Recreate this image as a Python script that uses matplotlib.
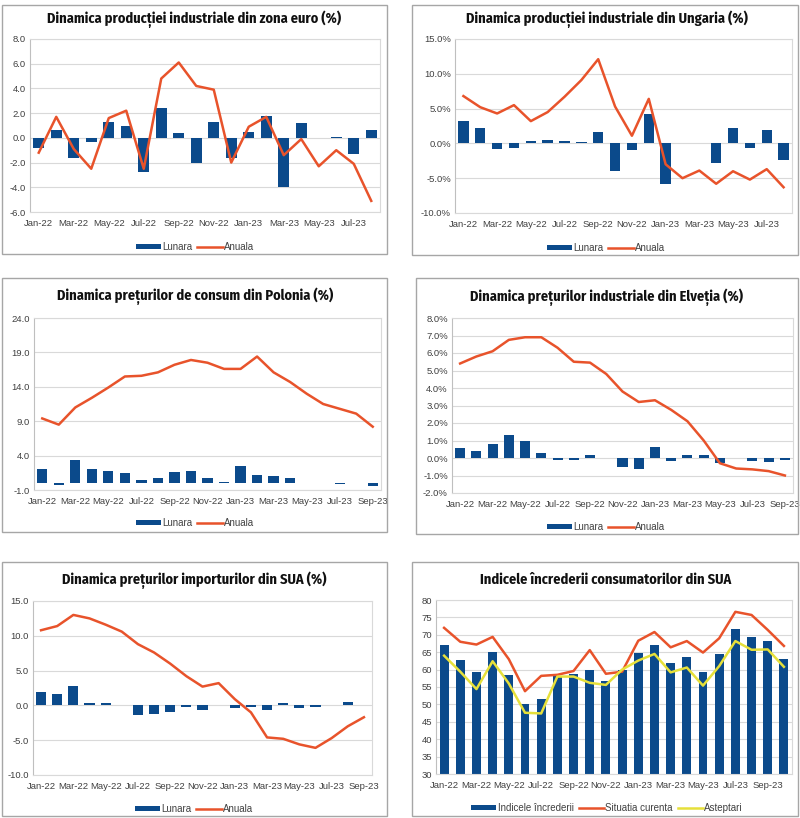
import matplotlib
matplotlib.use("Agg")
import matplotlib.pyplot as plt
from matplotlib.patches import Rectangle
from matplotlib.ticker import FuncFormatter
import numpy as np

W, H = 800, 818
BLUE = "#0b4a8b"
ORANGE = "#e8532b"
YELLOW = "#e6e03a"
GRID = "#d9d9d9"
TXT = "#404040"

months = ["Jan-22", "Feb-22", "Mar-22", "Apr-22", "May-22", "Jun-22", "Jul-22",
          "Aug-22", "Sep-22", "Oct-22", "Nov-22", "Dec-22", "Jan-23", "Feb-23",
          "Mar-23", "Apr-23", "May-23", "Jun-23", "Jul-23", "Aug-23", "Sep-23",
          "Oct-23"]

# zona euro (Jan-22 .. Aug-23)
ez_lunara = [-0.85, 0.6, -1.6, -0.3, 1.3, 1.0, -2.8, 2.4, 0.4, -2.0, 1.3, -1.6,
             0.5, 1.8, -4.0, 1.2, 0.0, 0.1, -1.3, 0.6]
ez_anuala = [-1.2, 1.7, -0.9, -2.5, 1.6, 2.2, -2.5, 4.8, 6.1, 4.2, 3.9, -2.0,
             0.9, 1.7, -1.4, -0.1, -2.3, -1.0, -2.1, -5.1]

# Ungaria (Jan-22 .. Aug-23), %
hu_lunara = [3.2, 2.2, -0.8, -0.7, 0.3, 0.5, 0.3, 0.2, 1.6, -4.0, -1.0, 4.2,
             -5.9, 0.1, 0.1, -2.8, 2.2, -0.7, 1.9, -2.4]
hu_anuala = [6.8, 5.2, 4.3, 5.5, 3.2, 4.5, 6.7, 9.1, 12.1, 5.3, 1.1, 6.4,
             -3.0, -5.0, -3.9, -5.8, -4.0, -5.2, -3.7, -6.3]

# Polonia (Jan-22 .. Sep-23)
pl_lunara = [2.0, -0.3, 3.3, 2.0, 1.7, 1.5, 0.5, 0.8, 1.6, 1.8, 0.7, 0.1,
             2.5, 1.2, 1.1, 0.7, 0.0, 0.0, -0.2, 0.0, -0.4]
pl_anuala = [9.4, 8.5, 11.0, 12.4, 13.9, 15.5, 15.6, 16.1, 17.2, 17.9, 17.5, 16.6,
             16.6, 18.4, 16.1, 14.7, 13.0, 11.5, 10.8, 10.1, 8.2]

# Elvetia (Jan-22 .. Sep-23), %
ch_lunara = [0.55, 0.4, 0.8, 1.3, 0.95, 0.3, -0.1, -0.1, 0.15, 0.02, -0.5, -0.65,
             0.65, -0.15, 0.2, 0.2, -0.3, 0.0, -0.15, -0.25, -0.1]
ch_anuala = [5.4, 5.8, 6.1, 6.75, 6.9, 6.9, 6.3, 5.5, 5.45, 4.8, 3.8, 3.2,
             3.3, 2.75, 2.1, 1.0, -0.3, -0.6, -0.65, -0.75, -1.0]

# SUA importuri (Jan-22 .. Sep-23)
us_lunara = [1.9, 1.7, 2.8, 0.4, 0.4, 0.1, -1.4, -1.2, -0.9, -0.3, -0.7, 0.05,
             -0.4, -0.2, -0.7, 0.3, -0.4, -0.2, 0.05, 0.5, 0.1]
us_anuala = [10.8, 11.4, 13.0, 12.5, 11.6, 10.6, 8.8, 7.6, 6.0, 4.2, 2.7, 3.2,
             0.9, -1.0, -4.6, -4.8, -5.6, -6.1, -4.7, -3.0, -1.7]

# SUA incredere consumatori (Jan-22 .. Oct-23)
cc_indice = [67.1, 62.8, 59.4, 65.2, 58.4, 50.0, 51.5, 58.2, 58.6, 60.0, 56.8, 59.8,
             64.9, 67.0, 62.0, 63.5, 59.2, 64.4, 71.6, 69.5, 68.1, 63.0]
cc_curenta = [72.0, 68.0, 67.2, 69.4, 63.0, 53.8, 58.2, 58.5, 59.6, 65.6, 58.8, 59.4,
              68.3, 70.8, 66.4, 68.2, 64.9, 69.0, 76.6, 75.7, 71.4, 66.8]
cc_asteptari = [64.0, 59.4, 54.4, 62.4, 56.0, 47.6, 47.4, 58.0, 58.0, 56.2, 55.6, 60.0,
                62.6, 64.5, 59.2, 60.6, 55.4, 61.0, 68.2, 65.7, 65.8, 60.8]

plt.rcParams["font.family"] = ["Liberation Sans", "DejaVu Sans"]
TITLE_FONT = ["Fira Sans Condensed", "DejaVu Sans"]

fig = plt.figure(figsize=(W / 100, H / 100), dpi=100)


def px_axes(l, t, r, b):
    return fig.add_axes([l / W, 1 - b / H, (r - l) / W, (b - t) / H])


def box(l, t, r, b):
    fig.patches.append(Rectangle((l / W, 1 - b / H), (r - l) / W, (b - t) / H,
                                 transform=fig.transFigure, fill=False,
                                 edgecolor="#a6a6a6", lw=1.0))


def style(ax, n, ylim, step, fmt):
    ax.set_xlim(-0.5, n - 0.5)
    ax.set_ylim(*ylim)
    ax.set_yticks(np.arange(ylim[0], ylim[1] + step / 2, step))
    ax.yaxis.set_major_formatter(FuncFormatter(fmt))
    ax.set_xticks(range(0, n, 2))
    ax.set_xticklabels(months[0:n:2])
    ax.grid(axis="y", color=GRID, lw=0.8)
    ax.set_axisbelow(True)
    for s in ax.spines.values():
        s.set_color(GRID)
        s.set_linewidth(0.8)
    ax.spines["left"].set_color("#bfbfbf")
    ax.tick_params(axis="both", length=0, labelsize=6.8, colors=TXT)
    ax.tick_params(axis="x", pad=5)
    ax.tick_params(axis="y", pad=3)


def legend(ax, cx, cy, handles, labels):
    ax.legend(handles, labels, loc="center", bbox_to_anchor=(cx / W, 1 - cy / H),
              bbox_transform=fig.transFigure, ncol=len(handles), frameon=False,
              fontsize=7, handlelength=2.6, handleheight=0.55,
              columnspacing=0.5, handletextpad=0.15, labelcolor=TXT,
              borderpad=0, borderaxespad=0)


def title(text, cx, cy):
    fig.text(cx / W, 1 - cy / H, text, fontsize=10.3, fontweight="bold",
             family=TITLE_FONT, fontstretch="condensed", color="#111111",
             ha="center", va="center")


def bar_line(ax, lun, anu):
    x = np.arange(len(lun))
    b = ax.bar(x, lun, width=0.62, color=BLUE)
    l, = ax.plot(x, anu, color=ORANGE, lw=1.8)
    return [b, l], ["Lunara", "Anuala"]


pct = lambda v, p: f"{v:.1f}%"
one = lambda v, p: f"{v:.1f}"

# panel boxes
box(2, 5, 387, 254)
box(412, 5, 798, 255)
box(2, 278, 387, 532)
box(416, 278, 798, 534)
box(2, 562, 387, 816)
box(412, 562, 798, 816)

ax1 = px_axes(30, 39, 380, 212)
h, lb = bar_line(ax1, ez_lunara, ez_anuala)
style(ax1, len(ez_lunara), (-6, 8), 2, one)
title("Dinamica producției industriale din zona euro (%)", 194, 19)
legend(ax1, 195, 247, h, lb)

ax2 = px_axes(455, 39, 792, 213)
h, lb = bar_line(ax2, hu_lunara, hu_anuala)
style(ax2, len(hu_lunara), (-10, 15), 5, pct)
title("Dinamica producției industriale din Ungaria (%)", 607, 19)
legend(ax2, 606, 248, h, lb)

ax3 = px_axes(34, 318, 381, 490)
h, lb = bar_line(ax3, pl_lunara, pl_anuala)
style(ax3, len(pl_lunara), (-1, 24), 5, one)
title("Dinamica prețurilor de consum din Polonia (%)", 195, 296)
legend(ax3, 195, 523, h, lb)

ax4 = px_axes(452, 318, 793, 493)
h, lb = bar_line(ax4, ch_lunara, ch_anuala)
style(ax4, len(ch_lunara), (-2, 8), 1, pct)
title("Dinamica prețurilor industriale din Elveția (%)", 606, 297)
legend(ax4, 606, 527, h, lb)

ax5 = px_axes(33, 601, 372, 775)
h, lb = bar_line(ax5, us_lunara, us_anuala)
style(ax5, len(us_lunara), (-10, 15), 5, one)
title("Dinamica prețurilor importurilor din SUA (%)", 194, 580)
legend(ax5, 194, 809, h, lb)

ax6 = px_axes(436, 600, 792, 774)
x6 = np.arange(len(cc_indice))
b6 = ax6.bar(x6, np.array(cc_indice) - 30, bottom=30, width=0.55, color=BLUE)
l6a, = ax6.plot(x6, cc_curenta, color=ORANGE, lw=1.8)
l6b, = ax6.plot(x6, cc_asteptari, color=YELLOW, lw=1.8)
style(ax6, len(cc_indice), (30, 80), 5, lambda v, p: f"{v:.0f}")
title("Indicele încrederii consumatorilor din SUA", 606, 580)
legend(ax6, 607, 808, [b6, l6a, l6b],
       ["Indicele încrederii", "Situatia curenta", "Asteptari"])

fig.savefig("out.png", dpi=100, facecolor="white")
